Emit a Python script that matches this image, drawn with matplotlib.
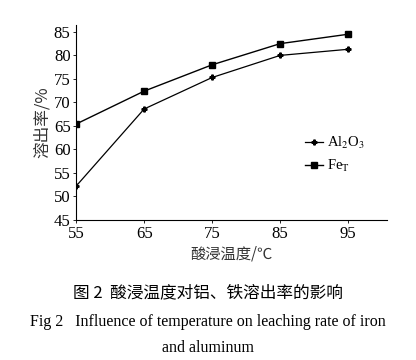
import matplotlib.pyplot as plt
import matplotlib as mpl

mpl.rcParams['font.family'] = ['Liberation Serif', 'Noto Sans CJK SC']
mpl.rcParams['mathtext.fontset'] = 'stix'

# 数据
temps = [55, 65, 75, 85, 95]
al2o3 = [52.2, 68.6, 75.3, 80.0, 81.3]
fe_t = [65.4, 72.4, 78.0, 82.5, 84.5]
xticks = [55, 65, 75, 85, 95]
yticks = [45, 50, 55, 60, 65, 70, 75, 80, 85]

fig = plt.figure(figsize=(4.16, 3.6), dpi=100)
ax = fig.add_axes([0.183, 0.389, 0.747, 0.542])

ax.plot(temps, al2o3, color='black', lw=0.9, marker='P', markersize=3.5,
        label=r'Al$_2$O$_3$')
ax.plot(temps, fe_t, color='black', lw=1.0, marker='s', markersize=5,
        label=r'Fe$_{\rm T}$')

ax.set_xlim(55, 100.7)
ax.set_ylim(45, 86.5)
ax.set_xticks(xticks)
ax.set_yticks(yticks)
ax.tick_params(labelsize=12, length=2, width=0.6, direction='out', pad=2)
ax.spines['top'].set_visible(False)
ax.spines['right'].set_visible(False)
ax.spines['left'].set_linewidth(0.8)
ax.spines['bottom'].set_linewidth(0.8)

ax.set_ylabel('溶出率/%', fontsize=12, family=['Noto Sans CJK SC'], color='#333333',
              labelpad=2)
ax.set_xlabel('酸浸温度/℃', fontsize=11, family=['Noto Sans CJK SC'], color='#333333',
              labelpad=3)

ax.legend(loc='center left', bbox_to_anchor=(0.695, 0.335), frameon=False,
          fontsize=10.5, handlelength=1.2, handletextpad=0.3, labelspacing=0.5)

fig.text(0.5, 1 - 293 / 360, '图 2  酸浸温度对铝、铁溶出率的影响', ha='center', va='center',
         fontsize=12, family=['Noto Sans CJK SC'])
fig.text(0.5, 1 - 322 / 360, 'Fig 2   Influence of temperature on leaching rate of iron',
         ha='center', va='center', fontsize=11.5)
fig.text(0.5, 1 - 348 / 360, 'and aluminum', ha='center', va='center', fontsize=11.5)

fig.savefig('out.png', dpi=100)
